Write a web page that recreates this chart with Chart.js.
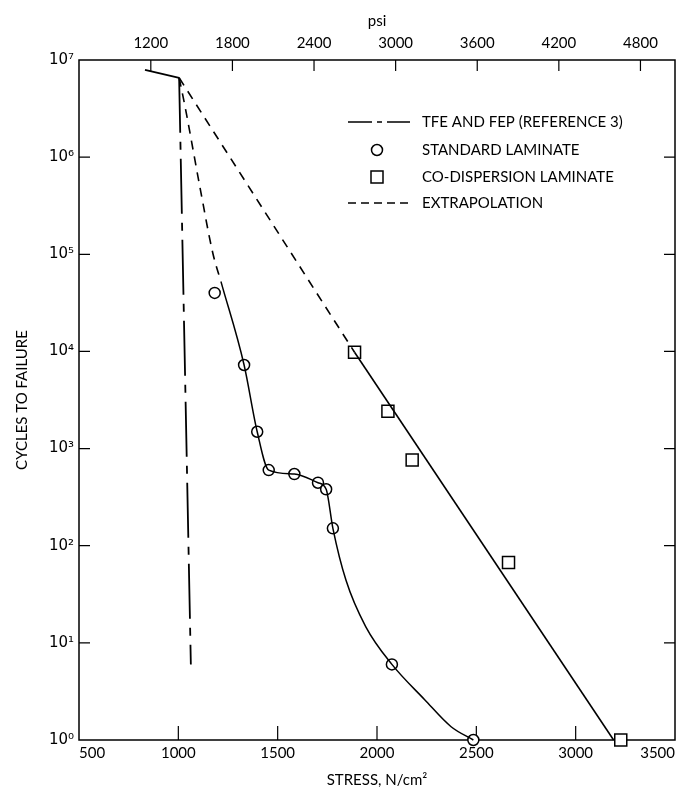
<!DOCTYPE html>
<html>
<head>
<meta charset="UTF-8">
<title>Cycles to Failure vs Stress</title>
<script src="https://cdn.jsdelivr.net/npm/chart.js"></script>
<style>
  html, body { margin: 0; padding: 0; background: #fff; }
</style>
</head>
<body>
<canvas id="fatigueChart" width="685" height="795"></canvas>
<script>
// stress in N/cm^2, cycles to failure
const standardStress = [1183, 1331, 1397, 1455, 1584, 1703, 1744, 1778, 2075, 2485];
const standardCycles = [40000, 7250, 1490, 600, 547, 445, 381, 151, 6, 1];

const codispStress = [1887, 2055, 2177, 2662, 3227];
const codispCycles = [9800, 2420, 763, 67, 1];

// faired curve through the standard laminate points
const standardCurveStress = [1215, 1331, 1397, 1455, 1584, 1703, 1744, 1778, 1844, 1943, 2075, 2240, 2373, 2485];
const standardCurveCycles = [52000, 7250, 1490, 600, 547, 445, 381, 151, 44, 14.7, 6, 2.6, 1.37, 1];

// dashed extrapolations back to the common point
const standardExtrapStress = [1004, 1034, 1108, 1174, 1215];
const standardExtrapCycles = [6.56e6, 3.3e6, 5.0e5, 1.02e5, 52000];
const codispExtrapStress = [1004, 1887];
const codispExtrapCycles = [6.56e6, 9800];

// co-dispersion fit line
const codispFitStress = [1887, 3191];
const codispFitCycles = [9800, 1];

// TFE and FEP (reference 3)
const tfeStress = [832, 1004, 1063];
const tfeCycles = [7.9e6, 6.56e6, 6];

// axis ticks
const stressTicks = [500, 1000, 1500, 2000, 2500, 3000, 3500];
const psiTicks = [1200, 1800, 2400, 3000, 3600, 4200, 4800];
const cycleTicks = [1, 10, 100, 1e3, 1e4, 1e5, 1e6, 1e7];

const sup = ['\u2070', '\u00b9', '\u00b2', '\u00b3', '\u2074', '\u2075', '\u2076', '\u2077'];
const pts = (xs, ys) => xs.map((x, i) => ({ x: x, y: ys[i] }));

const FONT = 'Lato, "DejaVu Sans", sans-serif';
const DASH_DOT = [55, 9, 8, 9];
const DASH = [9, 7];

// frame and inward tick marks, drawn under the markers
const framePlugin = {
  id: 'frame',
  beforeDatasetsDraw(chart) {
    const { ctx, chartArea: a, scales } = chart;
    ctx.save();
    ctx.strokeStyle = '#000';
    ctx.lineWidth = 1.5;
    ctx.strokeRect(a.left, a.top, a.right - a.left, a.bottom - a.top);
    ctx.lineWidth = 1.2;
    ctx.beginPath();
    stressTicks.slice(1, -1).forEach(v => {
      const x = scales.x.getPixelForValue(v);
      ctx.moveTo(x, a.bottom); ctx.lineTo(x, a.bottom - 14);
    });
    psiTicks.forEach(v => {
      const x = scales.psi.getPixelForValue(v);
      ctx.moveTo(x, a.top); ctx.lineTo(x, a.top + 11);
    });
    cycleTicks.slice(1, -1).forEach(v => {
      const y = scales.y.getPixelForValue(v);
      ctx.moveTo(a.left, y); ctx.lineTo(a.left + 11, y);
      ctx.moveTo(a.right, y); ctx.lineTo(a.right - 11, y);
    });
    ctx.stroke();
    ctx.restore();
  }
};

// legend inside the plot
const legendPlugin = {
  id: 'insideLegend',
  afterDatasetsDraw(chart) {
    const ctx = chart.ctx;
    const x0 = 348, x1 = 410, tx = 422;
    const rows = [122, 150, 177, 203];
    ctx.save();
    ctx.strokeStyle = '#000';
    ctx.fillStyle = '#000';
    ctx.lineWidth = 1.5;
    ctx.font = '15px ' + FONT;
    ctx.textBaseline = 'middle';

    ctx.setLineDash([24, 5, 5, 5]);
    ctx.beginPath(); ctx.moveTo(x0, rows[0]); ctx.lineTo(x1, rows[0]); ctx.stroke();
    ctx.setLineDash([8, 5]);
    ctx.beginPath(); ctx.moveTo(x0, rows[3]); ctx.lineTo(x1, rows[3]); ctx.stroke();
    ctx.setLineDash([]);

    ctx.beginPath(); ctx.arc(377, rows[1], 5.5, 0, Math.PI * 2); ctx.stroke();
    ctx.strokeRect(371, rows[2] - 6, 12, 12);

    ctx.fillText('TFE AND FEP (REFERENCE 3)', tx, rows[0]);
    ctx.fillText('STANDARD LAMINATE', tx, rows[1]);
    ctx.fillText('CO-DISPERSION LAMINATE', tx, rows[2]);
    ctx.fillText('EXTRAPOLATION', tx, rows[3]);
    ctx.restore();
  }
};

const lineDs = (data, dash, width) => ({
  data: data, showLine: true, pointRadius: 0, borderColor: '#000',
  borderWidth: width || 1.5, borderDash: dash || [], fill: false, clip: false
});

const standardCurve = lineDs(pts(standardCurveStress, standardCurveCycles));
standardCurve.cubicInterpolationMode = 'monotone';
const standardExtrap = lineDs(pts(standardExtrapStress, standardExtrapCycles), DASH, 1.6);
standardExtrap.cubicInterpolationMode = 'monotone';

const tfe = lineDs(pts(tfeStress, tfeCycles), [], 1.8);
tfe.segment = { borderDash: c => c.p0DataIndex === 0 ? [] : DASH_DOT };

new Chart(document.getElementById('fatigueChart').getContext('2d'), {
  type: 'scatter',
  data: {
    datasets: [
      tfe,
      standardExtrap,
      standardCurve,
      lineDs(pts(codispExtrapStress, codispExtrapCycles), DASH, 1.6),
      lineDs(pts(codispFitStress, codispFitCycles), [], 1.6),
      {
        data: pts(standardStress, standardCycles), pointStyle: 'circle', pointRadius: 5.5,
        backgroundColor: '#fff', borderColor: '#000', borderWidth: 1.5, clip: false
      },
      {
        data: pts(codispStress, codispCycles), pointStyle: 'rect', pointRadius: 8.5,
        backgroundColor: '#fff', borderColor: '#000', borderWidth: 1.5, clip: false
      }
    ]
  },
  options: {
    responsive: false,
    animation: false,
    devicePixelRatio: 1,
    events: [],
    layout: { padding: { right: 3 } },
    plugins: { legend: { display: false }, tooltip: { enabled: false } },
    scales: {
      x: {
        type: 'linear', position: 'bottom', min: 500, max: 3500,
        afterBuildTicks: s => { s.ticks = stressTicks.map(v => ({ value: v })); },
        afterFit: s => { s.height = 55; },
        grid: { display: false, drawTicks: false },
        border: { display: false },
        ticks: { align: 'inner', padding: 4, color: '#000', font: { family: FONT, size: 15 },
                 callback: v => String(v) },
        title: { display: true, text: 'STRESS, N/cm\u00b2', color: '#000',
                 font: { family: FONT, size: 15 }, padding: { bottom: 6 } }
      },
      psi: {
        type: 'linear', axis: 'x', position: 'top', min: 672, max: 5054,
        afterBuildTicks: s => { s.ticks = psiTicks.map(v => ({ value: v })); },
        afterFit: s => { s.height = 60; },
        grid: { display: false, drawTicks: false },
        border: { display: false },
        ticks: { padding: 8, color: '#000', font: { family: FONT, size: 15 },
                 callback: v => String(v) },
        title: { display: true, text: 'psi', color: '#000',
                 font: { family: FONT, size: 15 }, padding: { top: 12 } }
      },
      y: {
        type: 'logarithmic', min: 1, max: 1e7,
        afterBuildTicks: s => { s.ticks = cycleTicks.map(v => ({ value: v })); },
        afterFit: s => { s.width = 79; },
        grid: { display: false, drawTicks: false },
        border: { display: false },
        ticks: { padding: 5, color: '#000', font: { family: '"DejaVu Sans", sans-serif', size: 15 },
                 callback: v => '10' + sup[Math.round(Math.log10(v))] },
        title: { display: true, text: 'CYCLES TO FAILURE', color: '#000',
                 font: { family: FONT, size: 15 }, padding: { top: 13 } }
      }
    }
  },
  plugins: [framePlugin, legendPlugin]
});
</script>
</body>
</html>
